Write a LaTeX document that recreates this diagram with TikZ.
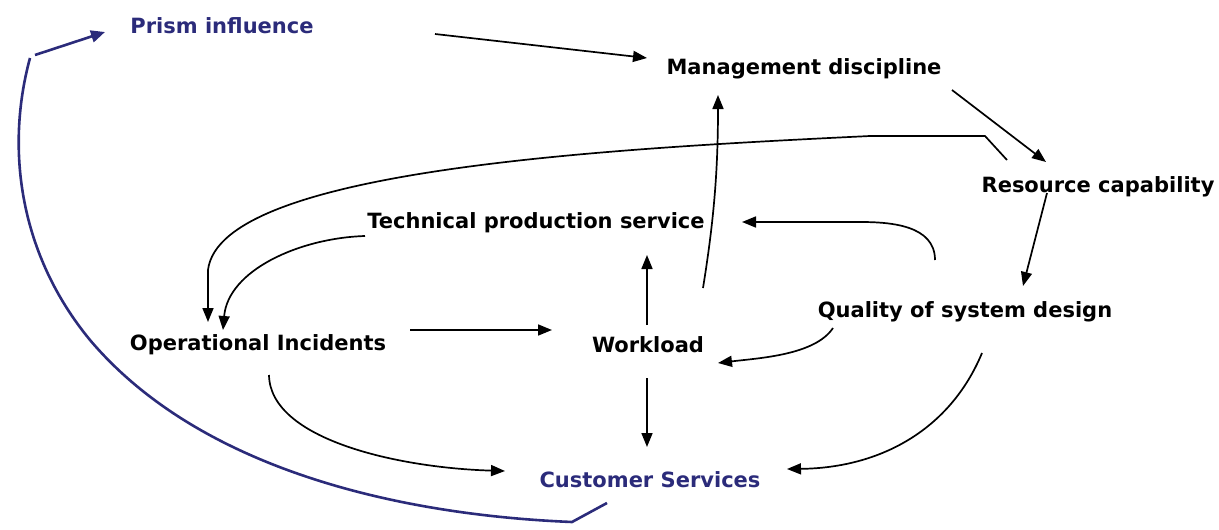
\documentclass[tikz,border=0pt]{standalone}
\usepackage{fontspec}
\setmainfont{DejaVu Sans}
\usetikzlibrary{arrows.meta,calc}
\definecolor{navy}{RGB}{43,43,122}
\begin{document}
\begin{tikzpicture}[x=1pt,y=-1pt,
  lbl/.style={inner sep=0pt,text height=15.5pt,text depth=4.5pt,font=\fontsize{21}{25}\selectfont\bfseries},
  bluelbl/.style={lbl,text=navy},
  conn/.style={draw=black,line width=1.7pt,-{Triangle[length=14pt,width=11pt]}},
  blueconn/.style={draw=navy,line width=2.6pt,-{Triangle[length=14pt,width=12pt]}}]
\useasboundingbox (0,0) rectangle (1219,530);

% nodes
\node[bluelbl] (prism) at (222,28) {Prism influence};
\node[lbl] (mgmt) at (804,69) {Management discipline};
\node[lbl] (res) at (1098,187) {Resource capability};
\node[lbl] (tech) at (536,223) {Technical production service};
\node[lbl] (qual) at (965,312) {Quality of system design};
\node[lbl] (opinc) at (258,345) {Operational Incidents};
\node[lbl] (work) at (648,347) {Workload};
\node[bluelbl] (cust) at (650,482) {Customer Services};

% connectors
\draw[conn] ($(prism)+(213,6)$) -- ($(mgmt)+(-157,-11)$);
\draw[conn] ($(mgmt)+(148,21)$) -- ($(res)+(-52,-25)$);
\draw[conn] ($(res)+(-51,6)$) -- ($(qual)+(58,-26)$);
\draw[conn] ($(res)+(-91,-27)$) -- ($(res)+(-113,-51)$) -- (870,136)
  .. controls (600,149) and (220,170) .. (208,270) -- ($(opinc)+(-50,-23)$);
\draw[conn] ($(tech)+(-171,13)$) .. controls (300,238) and (228,270) .. ($(opinc)+(-35,-15)$);
\draw[conn] ($(opinc)+(152,-15)$) -- ($(work)+(-96,-17)$);
\draw[conn] ($(work)+(-1,-22)$) -- ($(tech)+(111,32)$);
\draw[conn] ($(work)+(-1,31)$) -- ($(cust)+(-3,-35)$);
\draw[conn] ($(work)+(55,-59)$) .. controls (714,220) and (718,170) .. ($(mgmt)+(-86,26)$);
\draw[conn] ($(qual)+(-30,-52)$) .. controls (935,225) and (890,222) .. (860,222) -- ($(tech)+(206,-1)$);
\draw[conn] ($(qual)+(-132,16)$) .. controls (815,355) and (760,358) .. ($(work)+(70,16)$);
\draw[conn] ($(qual)+(17,41)$) .. controls (950,430) and (880,468) .. ($(cust)+(137,-13)$);
\draw[conn] ($(opinc)+(11,30)$) .. controls (270,440) and (400,468) .. ($(cust)+(-145,-11)$);
\draw[blueconn] ($(cust)+(-43,21)$) -- (572,522)
  .. controls (400,515) and (200,470) .. (90,340)
  .. controls (20,255) and (5,150) .. (30,58)
  (35,55) -- ($(prism)+(-117,4)$);
\end{tikzpicture}
\end{document}
